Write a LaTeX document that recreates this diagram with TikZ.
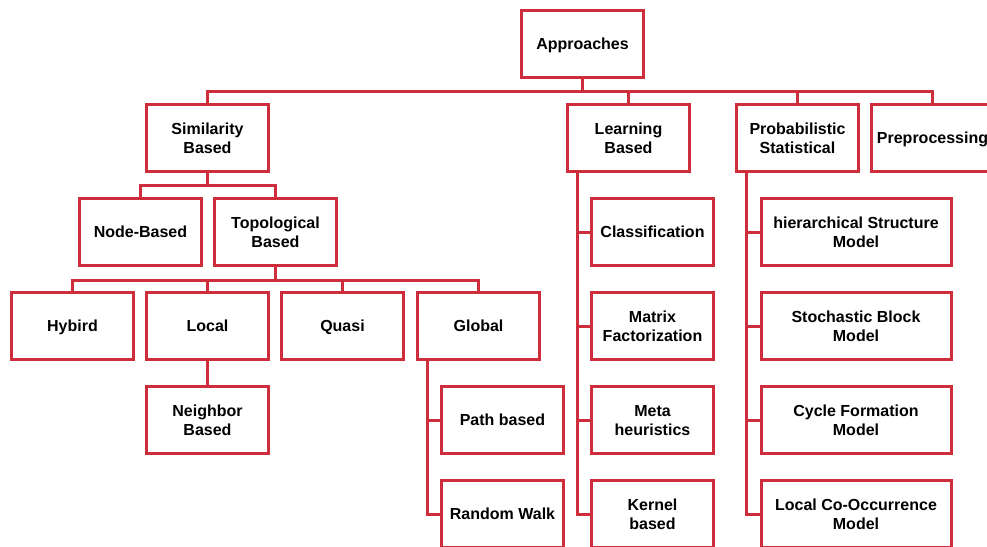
\documentclass[tikz,border=0pt]{standalone}
\usepackage{fontspec}
\setmainfont{Liberation Sans}
\usetikzlibrary{calc}
\definecolor{boxred}{RGB}{206,45,60}
% line strut: keeps every text line the same height so labels sit alike
\newcommand{\ls}{\rule[-4pt]{0pt}{19pt}}
\begin{document}
\begin{tikzpicture}[x=1pt,y=-1pt,
  box/.style={draw=boxred, line width=3pt, fill=white, minimum width=122pt,
    minimum height=67pt, inner sep=0pt, align=center,
    font=\bfseries\fontsize{16}{19}\selectfont},
  widebox/.style={box, minimum width=190pt},
  link/.style={draw=boxred, line width=3pt, line join=miter}]
\useasboundingbox (0,0) rectangle (987,546);

% root
\node[box] (appr) at (582.5,44) {\ls Approaches};

% first level
\node[box] (sim)   at (207.5,138) {\ls Similarity\\\ls Based};
\node[box] (learn) at (628.5,138) {\ls Learning\\\ls Based};
\node[box] (prob)  at (797.5,138) {\ls Probabilistic\\\ls Statistical};
\node[box] (prep)  at (932.5,138) {\ls Preprocessing};

% similarity branch
\node[box] (nodeb) at (140.5,232) {\ls Node-Based};
\node[box] (topo)  at (275.5,232) {\ls Topological\\\ls Based};
\node[box] (hyb)   at (72.5,326)  {\ls Hybird};
\node[box] (loc)   at (207.5,326) {\ls Local};
\node[box] (quasi) at (342.5,326) {\ls Quasi};
\node[box] (glob)  at (478.5,326) {\ls Global};
\node[box] (neigh) at (207.5,420) {\ls Neighbor\\\ls Based};
\node[box] (path)  at (502.5,420) {\ls Path based};
\node[box] (rw)    at (502.5,514) {\ls Random Walk};

% learning branch
\node[box] (cls)   at (652.5,232) {\ls Classification};
\node[box] (mf)    at (652.5,326) {\ls Matrix\\\ls Factorization};
\node[box] (meta)  at (652.5,420) {\ls Meta\\\ls heuristics};
\node[box] (kern)  at (652.5,514) {\ls Kernel\\\ls based};

% probabilistic branch
\node[widebox] (hsm)  at (856,232) {\ls hierarchical Structure\\\ls Model};
\node[widebox] (sbm)  at (856,326) {\ls Stochastic Block\\\ls Model};
\node[widebox] (cfm)  at (856,420) {\ls Cycle Formation\\\ls Model};
\node[widebox] (lco)  at (856,514) {\ls Local Co-Occurrence\\\ls Model};

% bus lines
\coordinate (bus0) at (582.5,91.5);
\coordinate (bus1) at (207.5,185);
\coordinate (bus2) at (275.5,280);
\draw[link] (appr.south) -- (bus0);
\draw[link] (sim.north) -- (sim.north |- bus0) -- (prep.north |- bus0) -- (prep.north);
\draw[link] (learn.north) -- (learn.north |- bus0);
\draw[link] (prob.north) -- (prob.north |- bus0);

\draw[link] (sim.south) -- (bus1);
\draw[link] (nodeb.north) -- (nodeb.north |- bus1) -- (topo.north |- bus1) -- (topo.north);

\draw[link] (topo.south) -- (bus2);
\draw[link] (hyb.north) -- (hyb.north |- bus2) -- (glob.north |- bus2) -- (glob.north);
\draw[link] (loc.north) -- (loc.north |- bus2);
\draw[link] (quasi.north) -- (quasi.north |- bus2);

\draw[link] (loc.south) -- (neigh.north);

% side trunks
\draw[link] ($(glob.south west)+(11,0)$) |- (path.west);
\draw[link] ($(glob.south west)+(11,0)$) |- (rw.west);

\draw[link] ($(learn.south west)+(11,0)$) |- (cls.west);
\draw[link] ($(learn.south west)+(11,0)$) |- (mf.west);
\draw[link] ($(learn.south west)+(11,0)$) |- (meta.west);
\draw[link] ($(learn.south west)+(11,0)$) |- (kern.west);

\draw[link] ($(prob.south west)+(11,0)$) |- (hsm.west);
\draw[link] ($(prob.south west)+(11,0)$) |- (sbm.west);
\draw[link] ($(prob.south west)+(11,0)$) |- (cfm.west);
\draw[link] ($(prob.south west)+(11,0)$) |- (lco.west);
\end{tikzpicture}
\end{document}
